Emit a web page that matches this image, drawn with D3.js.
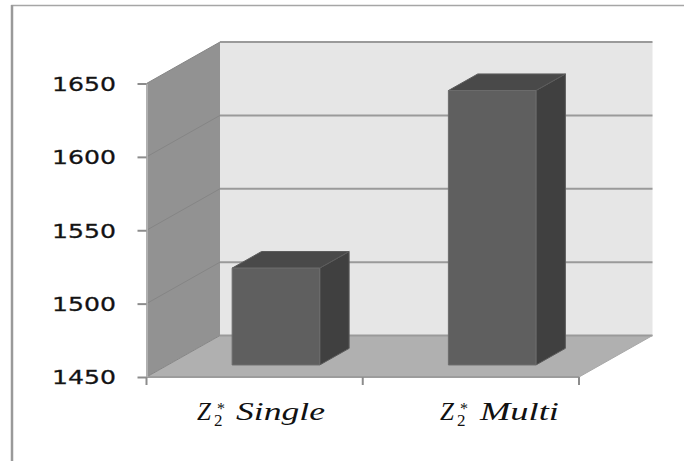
<!DOCTYPE html>
<html>
<head>
<meta charset="utf-8">
<script src="https://cdn.jsdelivr.net/npm/d3@7/dist/d3.min.js"></script>
<style>
html,body{margin:0;padding:0;background:#fff}
svg{display:block}
</style>
</head>
<body>
<svg id="chart" width="684" height="461"></svg>
<script>
// Chart values
const categories = ["Single", "Multi"];
const values = [1516, 1637];
const yTicks = [1450, 1500, 1550, 1600, 1650];
const yDomain = [1450, 1650];

const svg = d3.select("#chart");

// Front plane of the 3D box
const y = d3.scaleLinear().domain(yDomain).range([377, 83.5]);
const x = d3.scaleBand().domain(categories).range([146.5, 579])
  .paddingInner(0.595).paddingOuter(0.2975);

// Oblique projection of the depth axis (0 = front, 1 = back wall)
const depthX = d3.scaleLinear().domain([0, 1]).range([0, 73.5]);
const depthY = d3.scaleLinear().domain([0, 1]).range([0, -41.5]);
const barDepth = [0.29, 0.69];

const pt = (px, v, d) => [px + depthX(d), y(v) + depthY(d)];
const poly = pts => "M" + pts.map(p => p.join(",")).join("L") + "Z";
const [x0, x1] = x.range();
const [vMin, vMax] = yDomain;

// Outer frame: left and top edges only
svg.append("path")
  .attr("d", "M12,461V5.5H684")
  .attr("fill", "none").attr("stroke", "#a6a6a6").attr("stroke-width", 1.5);
svg.append("line").attr("x1", 12).attr("x2", 12).attr("y1", 5).attr("y2", 461)
  .attr("stroke", "#9a9a9a").attr("stroke-width", 2.5);

// Back wall
svg.append("path")
  .attr("d", poly([pt(x0, vMax, 1), pt(x1, vMax, 1), pt(x1, vMin, 1), pt(x0, vMin, 1)]))
  .attr("fill", "#e6e6e6");

// Side wall
svg.append("path")
  .attr("d", poly([pt(x0, vMax, 0), pt(x0, vMax, 1), pt(x0, vMin, 1), pt(x0, vMin, 0)]))
  .attr("fill", "#929292");

// Floor
svg.append("path")
  .attr("d", poly([pt(x0, vMin, 0), pt(x0, vMin, 1), pt(x1, vMin, 1), pt(x1, vMin, 0)]))
  .attr("fill", "#b0b0b0");

// Gridlines on the back wall and their continuation on the side wall
const gridLine = (a, b, color, w) => svg.append("line")
  .attr("x1", a[0]).attr("y1", a[1]).attr("x2", b[0]).attr("y2", b[1])
  .attr("stroke", color).attr("stroke-width", w);

yTicks.forEach(t => {
  gridLine(pt(x0, t, 1), pt(x1, t, 1), "#9a9a9a", 2);
  gridLine(pt(x0, t, 0), pt(x0, t, 1), "#858585", 1);
});
gridLine(pt(x0, vMin, 0), pt(x1, vMin, 0), "#9c9c9c", 2);
gridLine(pt(x1, vMin, 0), pt(x1, vMin, 1), "#a8a8a8", 1);

// Bars: side, top, then front face
categories.forEach((c, i) => {
  const l = x(c), r = l + x.bandwidth(), v = values[i];
  const [d0, d1] = barDepth;
  const g = svg.append("g").attr("stroke-linejoin", "round");
  g.append("path")
    .attr("d", poly([pt(r, v, d0), pt(r, v, d1), pt(r, vMin, d1), pt(r, vMin, d0)]))
    .attr("fill", "#404040").attr("stroke", "#5c5c5c").attr("stroke-width", 1);
  g.append("path")
    .attr("d", poly([pt(l, v, d0), pt(l, v, d1), pt(r, v, d1), pt(r, v, d0)]))
    .attr("fill", "#494949").attr("stroke", "#5c5c5c").attr("stroke-width", 1);
  g.append("path")
    .attr("d", poly([pt(l, v, d0), pt(r, v, d0), pt(r, vMin, d0), pt(l, vMin, d0)]))
    .attr("fill", "#5f5f5f").attr("stroke", "#6c6c6c").attr("stroke-width", 1);
});

// Value axis
const yAxis = svg.append("g")
  .attr("transform", `translate(${x0},0)`)
  .call(d3.axisLeft(y).tickValues(yTicks).tickFormat(d3.format("d"))
    .tickSize(9).tickSizeOuter(0).tickPadding(20));
yAxis.select(".domain").attr("stroke", "#b0b0b0").attr("stroke-width", 2);
yAxis.selectAll(".tick line").attr("stroke", "#8c8c8c").attr("stroke-width", 2);
yAxis.selectAll(".tick text")
  .attr("x", -30.5)
  .attr("y", 0.5)
  .attr("fill", "#111")
  .attr("stroke", "#222")
  .attr("stroke-width", 0.3)
  .attr("font-family", "'DejaVu Sans', sans-serif")
  .attr("font-size", 20)
  .attr("textLength", 64)
  .attr("lengthAdjust", "spacingAndGlyphs");

// Category axis: ticks sit on band boundaries
const boundaries = [x0, x0 + (x1 - x0) / 2, x1];
svg.append("g").selectAll("line").data(boundaries).join("line")
  .attr("x1", d => d).attr("x2", d => d).attr("y1", 377).attr("y2", 385)
  .attr("stroke", "#8c8c8c").attr("stroke-width", 2);

// Category labels: Z with subscript 2 and superscript star, kept in one text run
const labelStart = [197, 440];
const nameStart = [236, 480];
const nameLength = [89, 79];
const serif = "'Liberation Serif', serif";
categories.forEach((c, i) => {
  const g = svg.append("g").attr("fill", "#111").attr("font-family", serif);
  const sym = g.append("text").attr("y", 420).attr("font-size", 25);
  sym.append("tspan").attr("x", labelStart[i]).attr("y", 420)
    .attr("font-style", "italic").text("Z");
  sym.append("tspan").attr("x", labelStart[i] + 17).attr("y", 425.5)
    .attr("font-size", 17).text("2");
  sym.append("tspan").attr("x", labelStart[i] + 20).attr("y", 414)
    .attr("font-size", 16).text("*");
  g.append("text").attr("x", nameStart[i]).attr("y", 420).attr("font-size", 25)
    .attr("font-style", "italic")
    .attr("textLength", nameLength[i]).attr("lengthAdjust", "spacingAndGlyphs").text(c);
});
</script>
</body>
</html>
